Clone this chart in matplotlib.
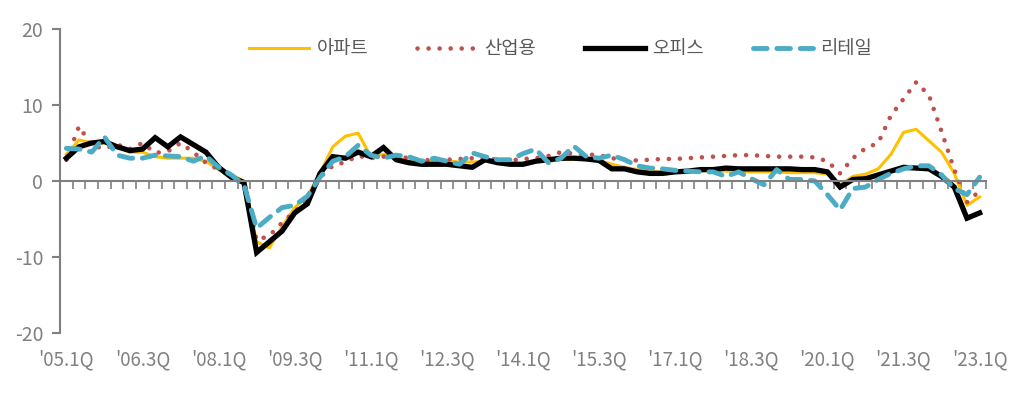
import numpy as np
import matplotlib
matplotlib.use("Agg")
import matplotlib.pyplot as plt

plt.rcParams['font.family'] = ['Noto Sans CJK KR', 'DejaVu Sans']
plt.rcParams['axes.unicode_minus'] = False

# quarterly growth, 2005.1Q .. 2023.1Q
apt = [3.5, 5.4, 5.0, 5.0, 4.5, 3.8, 3.8, 3.2, 3.0, 3.0,
       3.0, 2.6, 1.5, 0.8, 0.0, -8.0, -8.8, -6.0, -3.5, -2.0,
       1.0, 4.5, 5.9, 6.3, 3.2, 3.5, 3.0, 2.7, 2.5, 2.6,
       2.6, 2.5, 2.5, 2.6, 2.4, 2.3, 2.3, 2.6, 2.6, 2.8,
       2.9, 2.8, 2.7, 2.2, 1.8, 1.5, 1.3, 1.2, 1.2, 1.3,
       1.3, 1.4, 1.3, 1.2, 1.2, 1.2, 1.2, 1.1, 1.1, 1.1,
       0.9, -0.5, 0.6, 0.9, 1.6, 3.5, 6.4, 6.8, 5.3, 3.8,
       1.0, -3.2, -2.1]
industrial = [2.8, 7.2, 4.6, 4.3, 4.8, 4.2, 5.0, 3.7, 3.9, 5.0,
              3.8, 2.4, 1.5, 0.7, -0.3, -7.8, -7.2, -5.5, -4.0, -2.5,
              0.5, 2.0, 2.5, 3.3, 3.0, 3.2, 3.3, 3.0, 2.7, 2.8,
              2.8, 2.9, 3.0, 3.0, 2.8, 2.7, 2.9, 3.0, 3.3, 3.8,
              3.6, 3.5, 3.4, 3.0, 2.8, 2.7, 2.8, 2.9, 2.9, 3.0,
              3.1, 3.2, 3.3, 3.4, 3.4, 3.3, 3.2, 3.2, 3.2, 3.1,
              2.6, 1.0, 3.0, 4.3, 5.0, 8.6, 10.8, 13.0, 11.3, 6.5,
              1.5, -2.8, -1.3]
office = [3.0, 4.5, 5.0, 5.2, 4.5, 4.0, 4.2, 5.7, 4.5, 5.8,
          4.8, 3.8, 1.8, 0.5, -0.2, -9.4, -8.0, -6.6, -4.2, -3.0,
          1.0, 3.2, 3.0, 3.8, 3.2, 4.4, 2.8, 2.4, 2.2, 2.2,
          2.2, 2.0, 1.8, 2.8, 2.4, 2.2, 2.2, 2.6, 2.8, 3.0,
          3.0, 2.9, 2.7, 1.6, 1.6, 1.2, 1.0, 1.0, 1.2, 1.3,
          1.5, 1.5, 1.7, 1.6, 1.6, 1.6, 1.6, 1.6, 1.5, 1.5,
          1.2, -0.8, 0.2, 0.3, 0.8, 1.3, 1.8, 1.7, 1.6, 0.6,
          -0.8, -4.9, -4.2]
retail = [4.3, 4.2, 3.8, 5.8, 3.4, 3.0, 3.0, 3.4, 3.3, 3.2,
          2.6, 3.3, 1.8, 0.8, -0.5, -6.2, -4.8, -3.5, -3.2, -2.0,
          0.5, 2.6, 3.2, 4.7, 3.4, 3.0, 3.4, 3.2, 2.6, 3.0,
          2.6, 2.2, 3.7, 3.2, 2.8, 2.8, 3.6, 4.2, 2.4, 3.0,
          4.6, 3.2, 3.0, 3.4, 2.8, 2.0, 1.7, 1.6, 1.4, 1.3,
          1.2, 1.2, 0.6, 1.2, 0.3, -0.5, 1.5, 0.2, 0.2, 0.0,
          -1.8, -3.8, -1.0, -0.8, 0.2, 1.0, 1.6, 2.0, 2.0, 0.8,
          -1.0, -1.8, 0.5]

tick_labels = ["'05.1Q", "'06.3Q", "'08.1Q", "'09.3Q", "'11.1Q", "'12.3Q", "'14.1Q",
               "'15.3Q", "'17.1Q", "'18.3Q", "'20.1Q", "'21.3Q", "'23.1Q"]
names = ['아파트', '산업용', '오피스', '리테일']

gray = '#808080'
x = np.arange(len(office))

fig = plt.figure(figsize=(10.21, 3.93), dpi=100)
ax = fig.add_axes([0.0588, 0.1527, 0.9069, 0.7735])

ax.plot(x, apt, color='#FFC000', lw=2.2, label=names[0])
ax.plot(x, industrial, color='#C0504D', lw=3.3, linestyle=(0, (0.01, 2.4)),
        dash_capstyle='round', label=names[1])
ax.plot(x, office, color='black', lw=3.8, solid_joinstyle='miter', label=names[2])
ax.plot(x, retail, color='#4BACC6', lw=3.5, linestyle=(0, (2.8, 2.0)),
        dash_capstyle='round', label=names[3])

ax.set_xlim(-0.5, len(x) - 0.5)
ax.set_ylim(-20, 20)
ax.set_yticks([-20, -10, 0, 10, 20])

for s in ['top', 'right']:
    ax.spines[s].set_visible(False)
ax.spines['left'].set_color(gray)
ax.spines['left'].set_linewidth(1.5)
ax.spines['bottom'].set_position(('data', 0))
ax.spines['bottom'].set_color(gray)
ax.spines['bottom'].set_linewidth(1.5)

ax.set_xticks(np.arange(0.5, len(x), 1.0))
ax.set_xticklabels([])
ax.tick_params(axis='x', length=6, width=1.2, color=gray, direction='out')
ax.tick_params(axis='y', length=6, width=1.5, color=gray, labelsize=14,
               labelcolor=gray, pad=6)

sec = ax.secondary_xaxis(0)
sec.set_xticks(x[::6])
sec.set_xticklabels(tick_labels)
sec.tick_params(length=0, labelsize=13.5, labelcolor=gray, pad=12)
sec.spines['bottom'].set_visible(False)

leg = fig.legend(loc='upper center', bbox_to_anchor=(0.549, 0.945), ncol=4,
                 frameon=False, handlelength=3.2, columnspacing=2.6,
                 handletextpad=0.4, fontsize=13.5)
for t in leg.get_texts():
    t.set_color('#595959')

fig.savefig('out.png', dpi=100)
